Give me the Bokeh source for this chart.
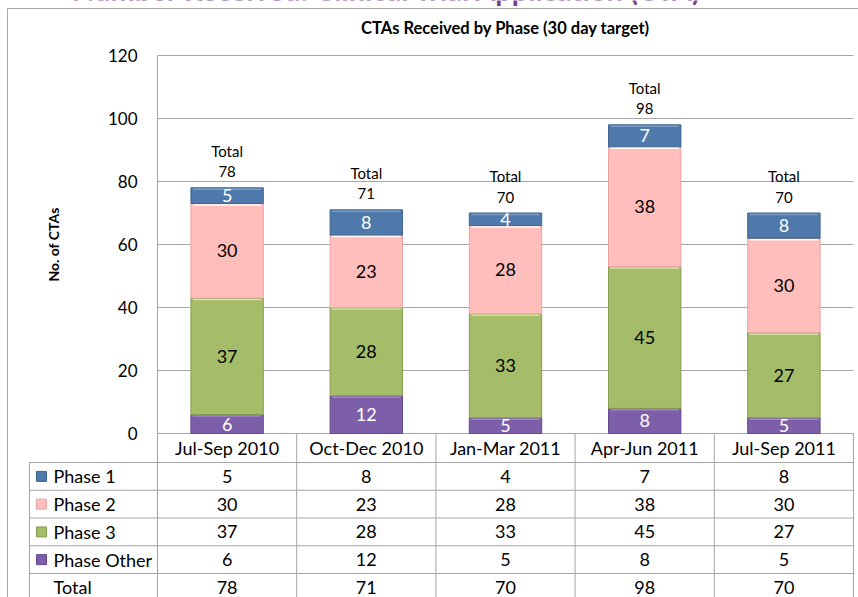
import math
from bokeh.plotting import figure
from bokeh.models import Range1d, FixedTicker
from bokeh.embed import file_html
from bokeh.resources import INLINE
from bokeh.core.properties import value

# ---------------- data ----------------
quarters = ["Jul-Sep 2010", "Oct-Dec 2010", "Jan-Mar 2011", "Apr-Jun 2011", "Jul-Sep 2011"]
phase_1 = [5, 8, 4, 7, 8]
phase_2 = [30, 23, 28, 38, 30]
phase_3 = [37, 28, 33, 45, 27]
phase_other = [6, 12, 5, 8, 5]
totals = [78, 71, 70, 98, 70]
series_names = ["Phase 1", "Phase 2", "Phase 3", "Phase Other"]
y_ticks = [0, 20, 40, 60, 80, 100, 120]
heading = "Number Received: Clinical Trial Application (CTA)"
chart_title = "CTAs Received  by Phase  (30 day target)"
y_title = "No. of CTAs"
total_word = "Total"

# ---------------- style / layout ----------------
FONT = "Lato"
GRID = "#A6A6A6"
FILL = {"Phase 1": "#4F79AA", "Phase 2": "#FFBEBB", "Phase 3": "#A5BC68", "Phase Other": "#7D5FA9"}
EDGE = {"Phase 1": "#3E6490", "Phase 2": "#E6A5A2", "Phase 3": "#879D50", "Phase Other": "#634990"}
HILITE = {"Phase 1": "#7FA0C8", "Phase 2": "#FFFFFF", "Phase 3": "#D8E6A8", "Phase Other": "#A58ACB"}
TXT = {"Phase 1": "white", "Phase 2": "black", "Phase 3": "black", "Phase Other": "white"}

W, H = 858, 597
FL, FR, FT, FB = 157, 853, 55, 433          # plot-area edges in page pixels
YMAX = 120
nq = len(quarters)
CW = (FR - FL) / nq
YS = (FB - FT) / YMAX
BAR_W = 0.52


def px2x(px):
    return (px - FL) / CW


def py2y(py):
    return (FB - py) / YS


p = figure(width=W, height=H, x_range=Range1d(px2x(0), px2x(W)), y_range=Range1d(py2y(H), py2y(0)),
           toolbar_location=None, output_backend="svg", x_axis_location=None,
           min_border_left=0, min_border_right=0, min_border_top=0, min_border_bottom=0)
p.outline_line_color = None
p.grid.grid_line_color = None

# ---------------- y axis (tick labels) ----------------
p.yaxis.fixed_location = 0
p.yaxis.ticker = FixedTicker(ticks=y_ticks)
p.yaxis.major_label_text_font = FONT
p.yaxis.major_label_text_font_size = "17px"
p.yaxis.major_label_text_color = "black"
p.yaxis.major_label_standoff = 20
p.yaxis.major_tick_out = 0
p.yaxis.major_tick_in = 0
p.yaxis.minor_tick_out = 0
p.yaxis.minor_tick_in = 0
p.yaxis.axis_line_color = None

# ---------------- outer border, heading, titles ----------------
p.segment(x0=[px2x(7), px2x(7)], y0=[py2y(8), py2y(8)], x1=[px2x(W + 5), px2x(7)],
          y1=[py2y(8), py2y(H + 5)], line_color=GRID, line_width=1)
p.text(x=[px2x(702)], y=[py2y(-11)], text=[heading], text_align="right",
       text_baseline="alphabetic", text_font=value(FONT), text_font_size="29px",
       text_font_style="bold", text_color="#7A3E8E")
p.text(x=[px2x(509)], y=[py2y(27)], text=[chart_title], text_align="center",
       text_baseline="middle", text_font=value(FONT), text_font_size="16.5px",
       text_font_style="bold", text_color="black")
p.text(x=[px2x(53)], y=[py2y(244)], text=[y_title], angle=math.pi / 2, text_align="center",
       text_baseline="middle", text_font=value(FONT), text_font_size="14px",
       text_font_style="bold", text_color="black")

# ---------------- grid lines / plot-area border ----------------
p.segment(x0=[0] * len(y_ticks), y0=y_ticks, x1=[nq] * len(y_ticks), y1=y_ticks,
          line_color=GRID, line_width=1)
p.segment(x0=[0], y0=[YMAX], x1=[0], y1=[py2y(H + 5)], line_color=GRID, line_width=1)

# ---------------- stacked bars ----------------
stack_keys = ["Phase Other", "Phase 3", "Phase 2", "Phase 1"]
series = {"Phase 1": phase_1, "Phase 2": phase_2, "Phase 3": phase_3, "Phase Other": phase_other}
xc = [i + 0.5 for i in range(nq)]
data = dict(x=xc, **{k: series[k] for k in stack_keys})
p.vbar_stack(stack_keys, x="x", width=BAR_W, source=data,
             fill_color=[FILL[k] for k in stack_keys],
             line_color=[EDGE[k] for k in stack_keys], line_width=1)

lx, ly, lt, lc = [], [], [], []
hx0, hx1, hy, hc = [], [], [], []
for i in range(nq):
    base = 0
    for k in stack_keys:
        v = series[k][i]
        lx.append(xc[i]); ly.append(base + v / 2); lt.append(str(v)); lc.append(TXT[k])
        base += v
        hx0.append(xc[i] - BAR_W / 2 + 2 / CW); hx1.append(xc[i] + BAR_W / 2 - 2 / CW)
        hy.append(base - 1.5 / YS); hc.append(HILITE[k])
p.segment(x0=hx0, y0=hy, x1=hx1, y1=hy, line_color=hc, line_width=1.5, line_alpha=0.9)
p.text(x=lx, y=ly, text=lt, text_color=lc, text_align="center", text_baseline="middle",
       text_font=value(FONT), text_font_size="18px")

p.text(x=xc, y=totals, text=[str(t) for t in totals], y_offset=-16,
       text_align="center", text_baseline="middle", text_font=value(FONT),
       text_font_size="15px", text_color="black")
p.text(x=xc, y=totals, text=[total_word] * nq, y_offset=-37,
       text_align="center", text_baseline="middle", text_font=value(FONT),
       text_font_size="15px", text_color="black")

# ---------------- data table ----------------
TL = 29
xl = px2x(TL)
row_px = [FB, 462, 489.75, 517.5, 545.25, 573, 600.75]
row_y = [py2y(v) for v in row_px]
row_labels = series_names + [total_word]
row_values = [phase_1, phase_2, phase_3, phase_other, totals]
bottom = py2y(H + 5)

vx = list(range(nq + 1)) + [xl]
vy0 = [0] * (nq + 1) + [row_y[1]]
p.segment(x0=vx, y0=vy0, x1=vx, y1=[bottom] * len(vx), line_color=GRID, line_width=1)
hys = row_y[1:]
p.segment(x0=[xl] * len(hys), y0=hys, x1=[nq] * len(hys), y1=hys, line_color=GRID, line_width=1)

p.text(x=xc, y=[(row_y[0] + row_y[1]) / 2] * nq, text=quarters, text_align="center",
       text_baseline="middle", text_font=value(FONT), text_font_size="18px", text_color="black")

rc = [(row_y[r + 1] + row_y[r + 2]) / 2 for r in range(len(row_labels))]
p.text(x=[px2x(53)] * len(row_labels), y=rc, text=row_labels, text_align="left",
       text_baseline="middle", text_font=value(FONT), text_font_size="18px", text_color="black")
p.rect(x=[px2x(41)] * len(series_names), y=rc[:len(series_names)], width=10, height=10,
       width_units="screen", height_units="screen",
       fill_color=[FILL[k] for k in series_names], line_color=[EDGE[k] for k in series_names])

cx, cy, ct = [], [], []
for r, vals in enumerate(row_values):
    for i, v in enumerate(vals):
        cx.append(xc[i]); cy.append(rc[r]); ct.append(str(v))
p.text(x=cx, y=cy, text=ct, text_align="center", text_baseline="middle",
       text_font=value(FONT), text_font_size="18px", text_color="black")

open("out.html", "w").write(file_html(p, INLINE))
